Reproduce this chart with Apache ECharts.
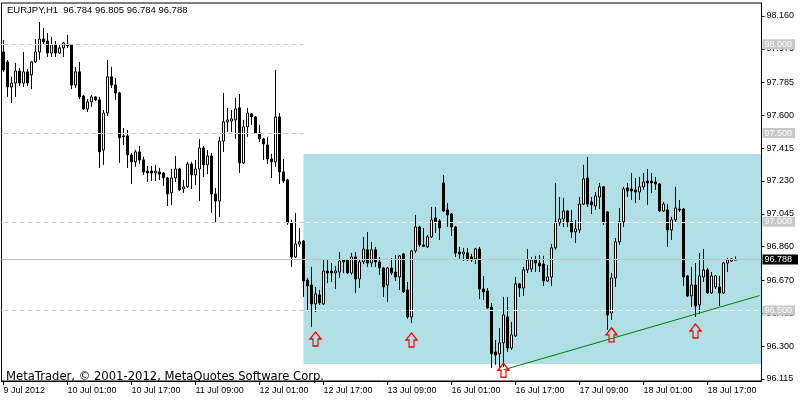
<!DOCTYPE html>
<html><head><meta charset="utf-8">
<script src="https://cdn.jsdelivr.net/npm/echarts@6/dist/echarts.min.js"></script>
<style>html,body{margin:0;padding:0;background:#fff}#c{width:800px;height:400px}</style>
</head><body><div id="c"></div>
<script>
// ---------- DATA ----------
const symbolName = 'EURJPY,H1';
// hourly sessions: [year, month, day, hour] of first bar, number of bars
const sessions = [
  { start: [2012, 7, 9, 9], bars: 111 },
  { start: [2012, 7, 16, 0], bars: 73 }
];
const emptySlots = 6; // empty space right of the last bar

const opens = [97.957,97.901,97.760,97.782,97.850,97.782,97.845,97.828,97.901,97.957,98.030,98.019,97.951,97.997,97.951,97.980,98.002,97.997,97.771,97.845,97.709,97.636,97.676,97.704,97.687,97.405,97.613,97.817,97.771,97.726,97.484,97.484,97.377,97.338,97.394,97.349,97.286,97.286,97.275,97.281,97.275,97.247,97.163,97.247,97.298,97.185,97.197,97.326,97.264,97.298,97.416,97.321,97.371,97.157,97.117,97.455,97.563,97.568,97.574,97.642,97.332,97.535,97.608,97.591,97.501,97.467,97.433,97.354,97.338,97.591,97.281,97.236,96.994,96.802,96.875,96.892,96.672,96.644,96.537,96.588,96.537,96.723,96.723,96.712,96.717,96.785,96.785,96.712,96.802,96.678,96.774,96.842,96.768,96.842,96.774,96.740,96.644,96.740,96.717,96.689,96.819,96.616,96.464,96.836,96.971,96.870,96.859,96.915,97.022,97.005,97.219,97.067,97.044,96.971,96.830,96.819,96.825,96.802,96.791,96.847,96.622,96.610,96.520,96.267,96.256,96.318,96.464,96.289,96.357,96.650,96.627,96.729,96.734,96.785,96.768,96.762,96.667,96.689,96.853,96.994,97.016,97.061,97.000,96.943,96.954,97.100,97.247,97.112,97.089,97.140,97.197,97.056,96.486,96.684,96.887,97.000,97.191,97.185,97.180,97.168,97.197,97.230,97.230,97.225,97.213,97.061,97.067,96.954,97.011,97.072,97.072,96.695,96.582,96.644,96.532,96.689,96.729,96.599,96.633,96.633,96.599,96.768,96.779,96.784];
const highs = [98.025,97.912,97.817,97.895,97.867,97.957,97.861,97.906,98.030,98.126,98.092,98.064,98.042,98.019,98.002,98.014,98.053,98.002,97.873,97.901,97.715,97.692,97.715,97.709,97.704,97.630,97.912,97.873,97.811,97.732,97.529,97.518,97.388,97.405,97.427,97.366,97.315,97.315,97.321,97.304,97.281,97.253,97.298,97.371,97.304,97.236,97.338,97.338,97.349,97.467,97.427,97.405,97.388,97.191,97.479,97.726,97.642,97.630,97.698,97.720,97.574,97.642,97.613,97.596,97.546,97.473,97.479,97.383,97.856,97.613,97.354,97.242,97.011,97.050,96.965,96.898,96.684,96.746,96.633,96.616,96.785,96.785,96.768,96.751,96.830,96.791,96.791,96.825,96.830,96.785,96.915,96.943,96.887,96.859,96.802,96.746,96.746,96.796,96.813,96.813,96.825,96.661,96.842,97.039,96.977,96.965,96.926,97.084,97.084,97.016,97.264,97.106,97.050,96.977,96.859,96.853,96.853,96.819,96.853,96.859,96.695,96.627,96.543,96.334,96.402,96.577,96.577,96.436,96.689,96.655,96.746,96.847,96.802,96.808,96.813,96.808,96.757,96.875,97.219,97.140,97.135,97.067,97.067,97.011,97.140,97.321,97.366,97.140,97.168,97.219,97.202,97.061,96.712,96.909,97.078,97.197,97.219,97.275,97.247,97.253,97.275,97.298,97.275,97.253,97.219,97.112,97.100,97.028,97.197,97.123,97.078,96.701,96.746,96.768,96.825,96.847,96.740,96.717,96.701,96.695,96.774,96.796,96.796,96.805];
const lows = [97.845,97.704,97.670,97.704,97.765,97.760,97.765,97.748,97.895,97.912,97.997,97.929,97.929,97.929,97.945,97.929,97.980,97.748,97.754,97.692,97.630,97.619,97.648,97.681,97.304,97.321,97.596,97.754,97.687,97.332,97.433,97.304,97.213,97.310,97.326,97.264,97.225,97.230,97.230,97.236,97.202,97.089,97.095,97.225,97.174,97.163,97.191,97.185,97.208,97.117,97.253,97.269,97.050,96.994,97.028,97.394,97.507,97.507,97.467,97.275,97.326,97.479,97.546,97.495,97.450,97.349,97.326,97.247,97.310,97.213,97.219,96.983,96.746,96.796,96.859,96.577,96.503,96.408,96.492,96.532,96.532,96.655,96.661,96.622,96.684,96.712,96.706,96.701,96.599,96.627,96.762,96.746,96.746,96.746,96.701,96.577,96.549,96.701,96.667,96.616,96.599,96.453,96.430,96.825,96.859,96.859,96.853,96.909,96.937,96.898,97.056,96.971,96.920,96.802,96.791,96.779,96.779,96.774,96.762,96.565,96.560,96.509,96.177,96.194,96.177,96.182,96.267,96.278,96.351,96.577,96.582,96.712,96.717,96.717,96.717,96.639,96.661,96.639,96.842,96.977,96.971,96.971,96.909,96.881,96.937,97.095,97.084,97.044,97.067,97.072,96.983,96.391,96.447,96.633,96.870,96.971,97.140,97.123,97.106,97.123,97.180,97.095,97.163,97.180,97.056,97.056,96.859,96.898,97.000,97.056,96.639,96.577,96.520,96.464,96.481,96.661,96.594,96.594,96.622,96.526,96.594,96.717,96.774,96.784];
const closes = [97.856,97.760,97.782,97.850,97.782,97.845,97.782,97.901,97.957,98.030,98.014,97.951,97.997,97.951,97.980,98.008,97.991,97.771,97.845,97.704,97.636,97.676,97.704,97.687,97.394,97.613,97.817,97.771,97.726,97.473,97.479,97.377,97.338,97.394,97.349,97.281,97.275,97.275,97.286,97.269,97.247,97.157,97.247,97.298,97.180,97.197,97.326,97.264,97.298,97.416,97.321,97.371,97.157,97.117,97.455,97.563,97.574,97.580,97.636,97.332,97.535,97.613,97.591,97.501,97.467,97.439,97.354,97.338,97.591,97.281,97.230,96.994,96.802,96.875,96.887,96.667,96.639,96.537,96.594,96.543,96.723,96.712,96.712,96.723,96.779,96.774,96.712,96.802,96.678,96.774,96.847,96.768,96.842,96.774,96.740,96.633,96.740,96.712,96.689,96.808,96.605,96.464,96.836,96.971,96.870,96.862,96.915,97.011,97.000,96.965,97.061,97.039,96.971,96.825,96.819,96.830,96.791,96.785,96.847,96.622,96.605,96.515,96.256,96.250,96.318,96.475,96.289,96.363,96.650,96.627,96.729,96.785,96.785,96.768,96.751,96.667,96.689,96.853,97.000,97.016,97.061,97.000,96.943,96.960,97.100,97.242,97.100,97.095,97.146,97.197,97.000,96.475,96.684,96.887,97.000,97.185,97.174,97.174,97.168,97.197,97.225,97.219,97.219,97.213,97.061,97.100,96.954,97.011,97.078,97.067,96.689,96.582,96.644,96.526,96.695,96.729,96.599,96.695,96.695,96.599,96.768,96.785,96.791,96.788];

const yTickValues = [96.115,96.300,96.485,96.670,96.860,97.045,97.230,97.415,97.600,97.785,97.975,98.160];
const yMin = 96.103, yMax = 98.233;
const levelLines = [98.000, 97.500, 97.000, 96.500];
const bidPrice = 96.788;
const rectStartBar = 75, rectTop = 97.382, rectBottom = 96.199;
const trendStart = [125, 96.166], trendEnd = [189, 96.584];
const arrowBars = [78, 102, 125, 152, 173];
const arrowPrices = [96.340, 96.334, 96.163, 96.363, 96.385];
const copyrightText = 'MetaTrader, \u00A9 2001-2012, MetaQuotes Software Corp.';

// ---------- BUILD ----------
const MONTHS = ['Jan','Feb','Mar','Apr','May','Jun','Jul','Aug','Sep','Oct','Nov','Dec'];
const times = [];
sessions.forEach(s => {
  const t0 = Date.UTC(s.start[0], s.start[1] - 1, s.start[2], s.start[3]);
  for (let k = 0; k < s.bars; k++) times.push(new Date(t0 + k * 3600000));
});
const pad = n => (n < 10 ? '0' : '') + n;
const categories = times.map(d => d.getUTCFullYear() + '.' + pad(d.getUTCMonth() + 1) + '.' + pad(d.getUTCDate()) + ' ' + pad(d.getUTCHours()) + ':00');
for (let k = 0; k < emptySlots; k++) categories.push('');
function xLabel(v, idx) {
  const d = times[idx];
  if (!d) return '';
  if (idx === 0) return d.getUTCDate() + ' ' + MONTHS[d.getUTCMonth()] + ' ' + d.getUTCFullYear();
  return d.getUTCDate() + ' ' + MONTHS[d.getUTCMonth()] + ' ' + pad(d.getUTCHours()) + ':00';
}
const candleData = opens.map((o, i) => [o, closes[i], lows[i], highs[i]]);
const last = opens.length - 1;
const headerText = symbolName + '  ' + [opens[last], highs[last], lows[last], closes[last]].map(v => v.toFixed(3)).join(' ');

const FONT = 'Liberation Sans';
const levelMarks = [];
levelLines.forEach(v => {
  levelMarks.push({
    yAxis: v,
    lineStyle: { color: '#ffffff', type: [5, 3], width: 1 },
    label: { show: true, position: 'end', distance: 1, formatter: v.toFixed(3),
      backgroundColor: '#c8c8c8', color: '#ffffff', fontSize: 9, fontFamily: FONT, padding: [1, 3, 0, 2] }
  });
});
const graySegs = levelLines.map(v => [
  { coord: [0, v], lineStyle: { color: '#c8c8c8', type: [5, 3], width: 1 } },
  { coord: [rectStartBar, v] }
]);

const chart = echarts.init(document.getElementById('c'), null, { renderer: 'canvas' });
chart.setOption({
  animation: false,
  backgroundColor: '#ffffff',
  grid: { left: 1.5, right: 38.5, top: 3, bottom: 19, show: true, borderColor: '#000', borderWidth: 1,
    containLabel: false, outerBoundsMode: 'none' },
  xAxis: {
    type: 'category', data: categories, boundaryGap: true,
    axisLine: { show: true, lineStyle: { color: '#000', width: 1 } },
    axisTick: { show: true, alignWithLabel: true, interval: 15, length: 4, lineStyle: { color: '#000' } },
    axisLabel: { show: true, interval: 15, formatter: xLabel, align: 'left', margin: 5,
      color: '#000', fontSize: 9, fontFamily: FONT },
    splitLine: { show: false }
  },
  yAxis: {
    type: 'value', position: 'right', min: yMin, max: yMax,
    axisLine: { show: true, lineStyle: { color: '#000', width: 1 } },
    axisTick: { show: true, length: 3, customValues: yTickValues, lineStyle: { color: '#000' } },
    axisLabel: { show: true, customValues: yTickValues, formatter: v => v.toFixed(3), margin: 5,
      color: '#000', fontSize: 9, fontFamily: FONT },
    splitLine: { show: false }
  },
  series: [
    {
      type: 'custom', z: 1, silent: true, clip: false,
      data: [[rectStartBar, rectTop, rectBottom]],
      encode: { x: 0, y: [1, 2] },
      renderItem: function (params, api) {
        const p1 = api.coord([api.value(0), api.value(1)]);
        const p2 = api.coord([api.value(0), api.value(2)]);
        const cs = params.coordSys;
        return { type: 'rect', shape: { x: p1[0], y: p1[1], width: cs.x + cs.width - 0.5 - p1[0], height: p2[1] - p1[1] },
          style: { fill: '#b0e0e6' } };
      }
    },
    {
      type: 'line', z: 2, data: [], silent: true, clip: false,
      markLine: {
        silent: true, symbol: ['none', 'none'], animation: false, precision: 3,
        data: levelMarks.concat(graySegs).concat([{
          yAxis: bidPrice,
          lineStyle: { color: '#c0c0c0', type: 'solid', width: 1 },
          label: { show: true, position: 'end', distance: 1, formatter: bidPrice.toFixed(3),
            backgroundColor: '#000', color: '#fff', fontSize: 9, fontFamily: FONT, padding: [1, 6, 0, 2] }
        }])
      }
    },
    {
      type: 'candlestick', z: 3, data: candleData, barWidth: 2, clip: false, silent: true,
      itemStyle: { color: '#ffffff', color0: '#000000', borderColor: '#000000', borderColor0: '#000000', borderWidth: 1 }
    },
    {
      type: 'line', z: 4, data: [], silent: true, clip: false,
      markLine: {
        silent: true, symbol: ['none', 'none'], animation: false,
        label: { show: false },
        data: [[{ coord: trendStart }, { coord: trendEnd }]],
        lineStyle: { color: '#008000', type: 'solid', width: 1 }
      }
    },
    {
      type: 'scatter', z: 5, silent: true,
      data: arrowBars.map((b, i) => [b, arrowPrices[i]]),
      symbol: 'path://M5.5,0 L11,7 L8,7 L8,14 L3,14 L3,7 L0,7 Z',
      symbolSize: [11, 14],
      itemStyle: { color: 'rgba(0,0,0,0)', borderColor: '#ff0000', borderWidth: 1.3, opacity: 1 }
    }
  ],
  graphic: [
    { type: 'text', left: 7, top: 5, z: 10, silent: true,
      style: { text: headerText, font: '9.5px "Liberation Sans"', fill: '#000' } },
    { type: 'text', left: 6, top: 371, z: 10, silent: true,
      style: { text: copyrightText, font: '11.6px "DejaVu Sans"', fill: '#000' } }
  ]
});
</script>
</body></html>
